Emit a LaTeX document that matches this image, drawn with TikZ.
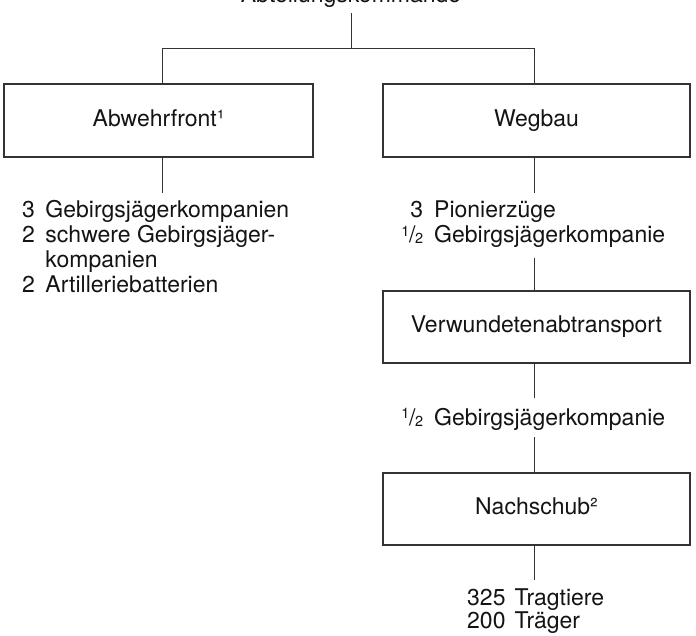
\documentclass[tikz,border=0pt]{standalone}
\usepackage{fontspec}
\setmainfont{TeX Gyre Heros}
\usepackage{array}
\newcommand\halbfr{{\fontsize{14.5}{14.5}\selectfont\raisebox{6.3pt}{1}}\kern-0.3pt/\kern-0.3pt{\fontsize{14.5}{14.5}\selectfont\raisebox{-1pt}{2}}}
\newcommand\nbox[1]{\makebox[30pt][r]{#1}}
\begin{document}
\begin{tikzpicture}[x=1pt,y=-1pt,
  every node/.style={font=\fontsize{23}{25.3}\selectfont, text=black!92, inner sep=0pt},
  unitbox/.style={draw=black!80, line width=1.2pt, minimum width=307pt, minimum height=72pt, text height=16.5pt, text depth=5pt},
  conn/.style={draw=black!80, line width=1pt},
  listing/.style={anchor=base west, align=left}]
\useasboundingbox (0,0) rectangle (696,635);
\fill[white] (0,0) rectangle (696,635);

% title (cut off at the top edge, as in the reference)
\node[anchor=base] (kdo) at (351,2.5) {Abteilungskommando};
\coordinate (jtop) at (351,13);
\coordinate (jt) at (351,48);
\coordinate (jl) at (162,48);
\coordinate (jr) at (534,48);

% boxes
\node[unitbox, minimum width=309pt, minimum height=73pt] (abw) at (158.5,120.5) {Abwehrfront¹};
\node[unitbox, minimum height=73pt] (weg) at (536.5,120.5) {Wegbau};
\node[unitbox] (ver) at (536.5,327) {Verwundetenabtransport};
\node[unitbox] (nach) at (536.5,509) {Nachschub²};

% lists
\node[listing] (labw) at (22,217) {\begin{tabular}[t]{@{}r@{\hspace{10.5pt}}l@{}}3 & Gebirgsjägerkompanien\\ 2 & schwere Gebirgsjäger-\\ & kompanien\\ 2 & Artilleriebatterien\end{tabular}};
\node[listing] (lweg) at (393,217) {\begin{tabular}[t]{@{}r@{\hspace{11pt}}l@{}}\nbox{3} & Pionierzüge\\ \nbox{\halbfr} & Gebirgsjägerkompanie\end{tabular}};
\node[listing] (lver) at (393,425) {\begin{tabular}[t]{@{}r@{\hspace{11pt}}l@{}}\nbox{\halbfr} & Gebirgsjägerkompanie\end{tabular}};
\node[listing] (lnach) at (467,605) {\fontsize{23}{23.5}\selectfont\begin{tabular}[t]{@{}r@{\hspace{9pt}}l@{}}325 & Tragtiere\\ 200 & Träger\end{tabular}};

% connector coordinates
\coordinate (la) at (162,193);
\coordinate (ra) at (534,193);
\coordinate (rb) at (534,258);
\coordinate (rc) at (534,398);
\coordinate (rd) at (534,437);
\coordinate (re) at (534,580);

% connectors
\draw[conn] (jtop) -- (jt);
\draw[conn] (jl) -- (jr);
\draw[conn] (jl) -- (jl |- abw.north);
\draw[conn] (jr) -- (jr |- weg.north);
\draw[conn] (la |- abw.south) -- (la);
\draw[conn] (ra |- weg.south) -- (ra);
\draw[conn] (rb) -- (rb |- ver.north);
\draw[conn] (rc |- ver.south) -- (rc);
\draw[conn] (rd) -- (rd |- nach.north);
\draw[conn] (re |- nach.south) -- (re);
\end{tikzpicture}
\end{document}
